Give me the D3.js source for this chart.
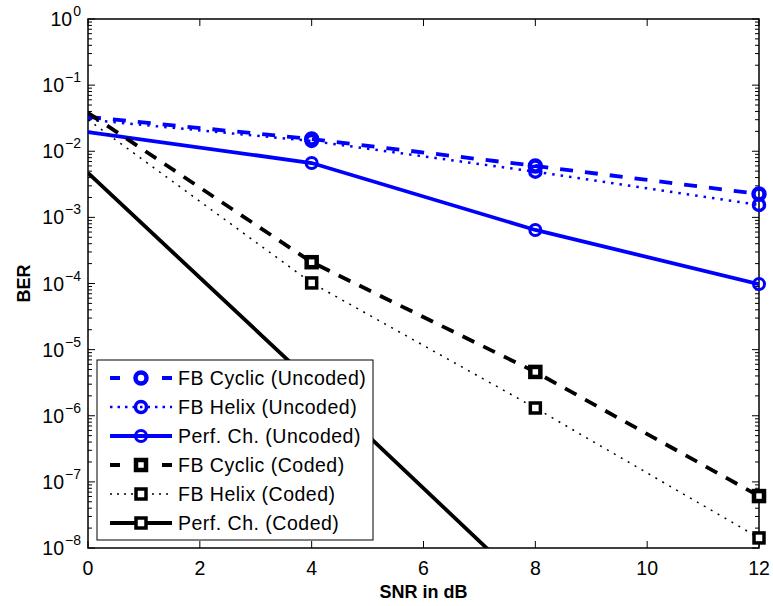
<!DOCTYPE html>
<html>
<head>
<meta charset="utf-8">
<script src="https://cdn.jsdelivr.net/npm/d3@7"></script>
<style>
body { margin: 0; background: #fff; }
text { font-family: "Liberation Sans", Arial, sans-serif; fill: #000; }
</style>
</head>
<body>
<div id="viz"></div>
<script>
// values
var snr = [0, 4, 8, 12];
var cyclicUncoded = [0.033, 0.0153, 0.006, 0.00226];
var helixUncoded = [0.03, 0.0143, 0.0049, 0.00154];
var perfUncoded = [0.0195, 0.00664, 0.000645, 0.000098];
var cyclicCoded = [0.038, 0.00021, 0.0000046, 0.000000061];
var helixCoded = [0.03, 0.000102, 0.00000131, 0.0000000142];
var perfCoded = [0.0047, 0.0000032, 0.000000002, 0.0000000000012];
var seriesNames = ["FB Cyclic (Uncoded)", "FB Helix (Uncoded)", "Perf. Ch. (Uncoded)",
                   "FB Cyclic (Coded)", "FB Helix (Coded)", "Perf. Ch. (Coded)"];
var xTicks = [0, 2, 4, 6, 8, 10, 12];
var yExponents = [0, -1, -2, -3, -4, -5, -6, -7, -8];

var w = 773, h = 606;
// note: "top" is a reserved window property, so use px* names
var pxLeft = 88, pxRight = 759, pxTop = 19, pxBottom = 548;

var svg = d3.select("#viz").append("svg")
    .attr("width", w)
    .attr("height", h);

var x = d3.scaleLinear().domain([0, 12]).range([pxLeft, pxRight]);
var y = d3.scaleLog().domain([1e-8, 1]).range([pxBottom, pxTop]);

// series styles (line, marker)
var styles = [
  {data: cyclicUncoded, color: "#0000ff", width: 3.8, dash: "13,12", legDash: "10,42", mark: "circle", mw: 4.5},
  {data: helixUncoded, color: "#0000ff", width: 2.5, dash: "2.5,6", legDash: "2.5,5", mark: "circle", mw: 3.5},
  {data: perfUncoded, color: "#0000ff", width: 3.8, dash: null, legDash: null, mark: "circle", mw: 3},
  {data: cyclicCoded, color: "#000", width: 3.8, dash: "13,10", legDash: "10,42", mark: "square", mw: 4.5},
  {data: helixCoded, color: "#000", width: 1.5, dash: "2,6", legDash: "2,5", mark: "square", mw: 3.5},
  {data: perfCoded, color: "#000", width: 3.8, dash: null, legDash: null, mark: "square", mw: 3.5}
];

svg.append("clipPath").attr("id", "plotclip")
  .append("rect").attr("x", pxLeft).attr("y", pxTop)
  .attr("width", pxRight - pxLeft).attr("height", pxBottom - pxTop);

// axes box with inward ticks
var minor = [];
yExponents.forEach(function(e) {
  if (e > -8) {
    for (var k = 2; k <= 9; k++) minor.push(k * Math.pow(10, e - 1));
  }
});
var majorY = yExponents.map(function(e) { return Math.pow(10, e); });

var tickG = svg.append("g").attr("stroke", "#000").attr("stroke-width", 1);
xTicks.forEach(function(t) {
  tickG.append("line").attr("x1", x(t)).attr("x2", x(t)).attr("y1", pxBottom).attr("y2", pxBottom - 7);
  tickG.append("line").attr("x1", x(t)).attr("x2", x(t)).attr("y1", pxTop).attr("y2", pxTop + 7);
});
majorY.forEach(function(v) {
  tickG.append("line").attr("x1", pxLeft).attr("x2", pxLeft + 7).attr("y1", y(v)).attr("y2", y(v));
  tickG.append("line").attr("x1", pxRight).attr("x2", pxRight - 7).attr("y1", y(v)).attr("y2", y(v));
});
minor.forEach(function(v) {
  tickG.append("line").attr("x1", pxLeft).attr("x2", pxLeft + 4).attr("y1", y(v)).attr("y2", y(v));
  tickG.append("line").attr("x1", pxRight).attr("x2", pxRight - 4).attr("y1", y(v)).attr("y2", y(v));
});

svg.append("rect")
  .attr("x", pxLeft).attr("y", pxTop)
  .attr("width", pxRight - pxLeft).attr("height", pxBottom - pxTop)
  .attr("fill", "none").attr("stroke", "#000").attr("stroke-width", 1.5);

// tick labels
svg.selectAll(".xlab").data(xTicks).enter().append("text")
  .attr("class", "xlab")
  .attr("x", function(d) { return x(d); })
  .attr("y", 575)
  .attr("text-anchor", "middle")
  .style("font-size", "19.5px")
  .text(function(d) { return d; });

var yl = svg.selectAll(".ylab").data(yExponents).enter().append("text")
  .attr("class", "ylab")
  .attr("x", 81)
  .attr("y", function(d) { return y(Math.pow(10, d)) + 7; })
  .attr("text-anchor", "end")
  .style("font-size", "19.5px");
yl.append("tspan").text("10");
yl.append("tspan")
  .attr("dy", -10)
  .attr("dx", 1)
  .style("font-size", "14px")
  .text(function(d) { return d === 0 ? "0" : "\u2212" + (-d); });

svg.append("text")
  .attr("x", (pxLeft + pxRight) / 2).attr("y", 598)
  .attr("text-anchor", "middle")
  .style("font-size", "18px").style("font-weight", "bold")
  .text("SNR in dB");

svg.append("text")
  .attr("transform", "translate(30," + ((pxTop + pxBottom) / 2) + ") rotate(-90)")
  .attr("text-anchor", "middle")
  .style("font-size", "18px").style("font-weight", "bold")
  .text("BER");

// lines
var line = d3.line()
  .x(function(d) { return x(d[0]); })
  .y(function(d) { return y(d[1]); });

var plotG = svg.append("g");
styles.forEach(function(s) {
  var pts = snr.map(function(v, i) { return [v, s.data[i]]; });
  plotG.append("path")
    .datum(pts)
    .attr("d", line)
    .attr("clip-path", "url(#plotclip)")
    .attr("fill", "none")
    .attr("stroke", s.color)
    .attr("stroke-width", s.width)
    .attr("stroke-dasharray", s.dash);
});

function drawMarker(g, s, cx, cy) {
  if (s.mark === "circle") {
    g.append("circle").attr("cx", cx).attr("cy", cy).attr("r", 5.5)
      .attr("fill", "none").attr("stroke", s.color).attr("stroke-width", s.mw);
  } else {
    g.append("rect").attr("x", cx - 5).attr("y", cy - 5).attr("width", 10).attr("height", 10)
      .attr("fill", "#fff").attr("stroke", s.color).attr("stroke-width", s.mw);
  }
}

// markers (none at SNR 0, none outside the y range)
styles.forEach(function(s) {
  snr.forEach(function(v, i) {
    if (v === 0 || s.data[i] < 1e-8) return;
    drawMarker(plotG, s, x(v), y(s.data[i]));
  });
});

// legend
var leg = svg.append("g");
leg.append("rect")
  .attr("x", 97).attr("y", 360).attr("width", 276).attr("height", 180)
  .attr("fill", "#fff").attr("stroke", "#000").attr("stroke-width", 1);

styles.forEach(function(s, i) {
  var ry = 378 + i * 29;
  leg.append("line")
    .attr("x1", 110).attr("x2", 172).attr("y1", ry).attr("y2", ry)
    .attr("stroke", s.color).attr("stroke-width", s.width)
    .attr("stroke-dasharray", s.legDash);
  drawMarker(leg, s, 141, ry);
  leg.append("text")
    .attr("x", 178).attr("y", ry + 7)
    .style("font-size", "19.5px")
    .style("letter-spacing", "0.5px")
    .text(seriesNames[i]);
});
</script>
</body>
</html>
